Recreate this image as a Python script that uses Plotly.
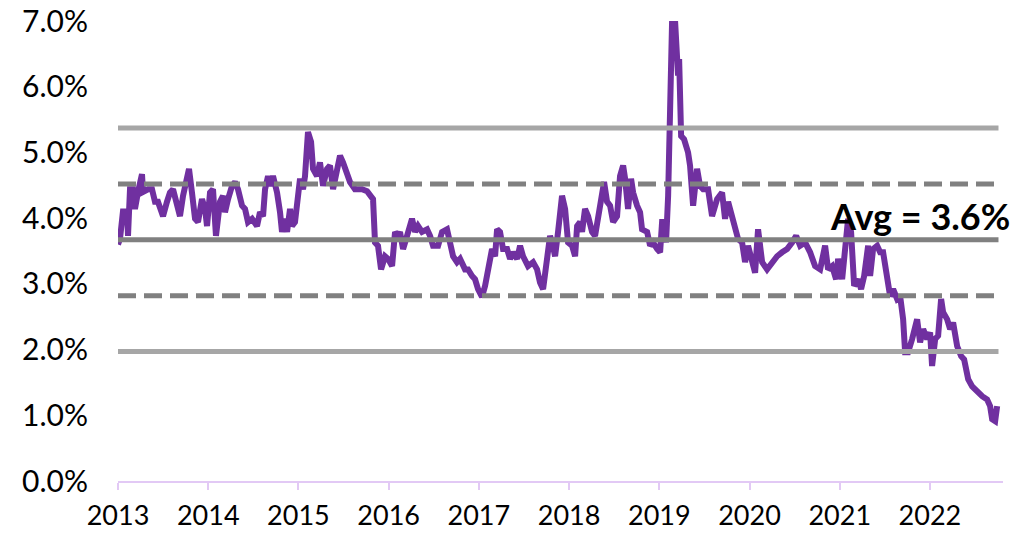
import plotly.graph_objects as go

# decimal year positions and values (%)
years = [
 2013.000, 2013.022, 2013.055, 2013.100, 2013.111, 2013.133, 2013.166, 2013.188, 2013.222, 2013.266,
 2013.277, 2013.333, 2013.377, 2013.410, 2013.443, 2013.499, 2013.543, 2013.576, 2013.610, 2013.654,
 2013.687, 2013.721, 2013.765, 2013.787, 2013.820, 2013.854, 2013.887, 2013.931, 2013.965, 2013.987,
 2014.020, 2014.053, 2014.086, 2014.098, 2014.131, 2014.164, 2014.186, 2014.220, 2014.264, 2014.297,
 2014.330, 2014.375, 2014.408, 2014.441, 2014.486, 2014.541, 2014.574, 2014.608, 2014.630, 2014.663,
 2014.685, 2014.718, 2014.763, 2014.796, 2014.818, 2014.851, 2014.874, 2014.907, 2014.929, 2014.962,
 2014.996, 2015.018, 2015.051, 2015.073, 2015.106, 2015.140, 2015.162, 2015.206, 2015.239, 2015.273,
 2015.317, 2015.350, 2015.384, 2015.428, 2015.461, 2015.494, 2015.539, 2015.572, 2015.627, 2015.705,
 2015.761, 2015.794, 2015.827, 2015.849, 2015.882, 2015.916, 2015.960, 2015.993, 2016.038, 2016.071,
 2016.104, 2016.126, 2016.160, 2016.204, 2016.259, 2016.293, 2016.326, 2016.370, 2016.426, 2016.459,
 2016.492, 2016.548, 2016.592, 2016.647, 2016.681, 2016.714, 2016.758, 2016.792, 2016.847, 2016.880,
 2016.925, 2016.958, 2016.991, 2017.035, 2017.069, 2017.102, 2017.146, 2017.180, 2017.202, 2017.235,
 2017.268, 2017.313, 2017.346, 2017.379, 2017.424, 2017.457, 2017.490, 2017.545, 2017.601, 2017.645,
 2017.678, 2017.712, 2017.756, 2017.789, 2017.812, 2017.845, 2017.878, 2017.922, 2017.956, 2017.989,
 2018.033, 2018.067, 2018.089, 2018.122, 2018.144, 2018.177, 2018.211, 2018.255, 2018.288, 2018.322,
 2018.366, 2018.388, 2018.421, 2018.455, 2018.488, 2018.532, 2018.565, 2018.599, 2018.621, 2018.654,
 2018.687, 2018.710, 2018.754, 2018.787, 2018.809, 2018.865, 2018.898, 2018.931, 2018.976, 2019.009,
 2019.031, 2019.053, 2019.075, 2019.098, 2019.120, 2019.142, 2019.175, 2019.208, 2019.220, 2019.242,
 2019.275, 2019.319, 2019.341, 2019.375, 2019.419, 2019.452, 2019.486, 2019.541, 2019.585, 2019.641,
 2019.696, 2019.729, 2019.763, 2019.807, 2019.840, 2019.874, 2019.918, 2019.951, 2019.984, 2020.029,
 2020.062, 2020.095, 2020.140, 2020.195, 2020.251, 2020.306, 2020.361, 2020.417, 2020.472, 2020.517,
 2020.561, 2020.616, 2020.672, 2020.727, 2020.783, 2020.838, 2020.871, 2020.916, 2020.960, 2020.982,
 2021.027, 2021.060, 2021.093, 2021.126, 2021.160, 2021.204, 2021.237, 2021.271, 2021.315, 2021.337,
 2021.370, 2021.415, 2021.448, 2021.481, 2021.525, 2021.559, 2021.592, 2021.636, 2021.670, 2021.703,
 2021.725, 2021.758, 2021.803, 2021.858, 2021.891, 2021.925, 2021.969, 2022.002, 2022.024, 2022.058,
 2022.091, 2022.124, 2022.146, 2022.191, 2022.224, 2022.257, 2022.302, 2022.346, 2022.379, 2022.424,
 2022.468, 2022.523, 2022.579, 2022.634, 2022.667, 2022.690, 2022.723, 2022.745,
]
values = [
 3.60, 3.68, 4.10, 4.10, 3.73, 4.44, 4.44, 4.14, 4.40, 4.67,
 4.40, 4.44, 4.44, 4.25, 4.25, 4.03, 4.25, 4.39, 4.44, 4.19,
 4.03, 4.34, 4.64, 4.75, 4.39, 3.99, 3.94, 4.29, 4.14, 3.88,
 4.39, 4.44, 3.73, 3.85, 4.25, 4.34, 4.09, 4.29, 4.49, 4.55,
 4.44, 4.19, 4.14, 3.94, 3.99, 3.88, 4.09, 4.03, 4.44, 4.64,
 4.49, 4.64, 4.39, 4.09, 3.79, 3.99, 3.79, 4.14, 3.88, 3.94,
 4.39, 4.60, 4.44, 4.64, 5.31, 5.16, 4.75, 4.64, 4.85, 4.49,
 4.75, 4.80, 4.44, 4.75, 4.95, 4.85, 4.70, 4.55, 4.44, 4.44,
 4.41, 4.34, 4.29, 3.63, 3.58, 3.22, 3.42, 3.38, 3.27, 3.79,
 3.73, 3.79, 3.53, 3.73, 3.99, 3.79, 3.88, 3.79, 3.83, 3.73,
 3.58, 3.58, 3.79, 3.83, 3.58, 3.42, 3.33, 3.38, 3.22, 3.22,
 3.12, 3.07, 2.92, 2.80, 2.97, 3.22, 3.53, 3.42, 3.83, 3.79,
 3.53, 3.53, 3.38, 3.48, 3.38, 3.58, 3.42, 3.27, 3.33, 3.22,
 3.02, 2.92, 3.48, 3.73, 3.63, 3.42, 3.79, 4.34, 4.14, 3.63,
 3.58, 3.42, 3.88, 3.94, 3.79, 4.14, 4.03, 3.79, 3.73, 4.03,
 4.34, 4.55, 4.25, 4.19, 3.94, 4.03, 4.64, 4.80, 4.60, 4.14,
 4.60, 4.39, 4.19, 4.09, 3.83, 3.79, 3.58, 3.63, 3.53, 3.48,
 3.94, 3.94, 3.63, 4.34, 5.66, 7.00, 7.00, 6.17, 6.42, 5.25,
 5.20, 5.00, 4.80, 4.19, 4.75, 4.49, 4.44, 4.44, 4.03, 4.29,
 4.39, 3.99, 4.25, 3.99, 3.88, 3.68, 3.63, 3.33, 3.58, 3.38,
 3.17, 3.83, 3.33, 3.22, 3.33, 3.42, 3.48, 3.53, 3.63, 3.73,
 3.58, 3.63, 3.48, 3.27, 3.22, 3.58, 3.22, 3.27, 3.07, 3.38,
 3.07, 3.63, 3.99, 3.79, 2.97, 3.07, 2.92, 3.12, 3.58, 3.12,
 3.53, 3.58, 3.48, 3.48, 3.07, 2.81, 2.92, 2.77, 2.81, 2.46,
 1.96, 1.96, 2.16, 2.46, 2.11, 2.31, 2.16, 2.26, 1.75, 2.16,
 2.21, 2.77, 2.57, 2.46, 2.31, 2.41, 2.05, 1.90, 1.85, 1.55,
 1.44, 1.35, 1.29, 1.24, 1.14, 0.94, 0.91, 1.14,
]

avg_value = 3.67
band_1sd = [4.52, 2.82]
band_2sd = [5.37, 1.97]
band_span = [2013.0, 2022.76]

tick_years = [2013, 2014, 2015, 2016, 2017, 2018, 2019, 2020, 2021, 2022]
tick_labels = [str(y) for y in tick_years]
y_ticks = [0, 1, 2, 3, 4, 5, 6, 7]
y_labels = ["0.0%", "1.0%", "2.0%", "3.0%", "4.0%", "5.0%", "6.0%", "7.0%"]
avg_label = "Avg = 3.6%"

PURPLE = "#7030A0"
DARK = "#808080"
LIGHT = "#A6A6A6"

fig = go.Figure()
fig.add_trace(go.Scatter(x=years, y=values, mode="lines",
                         line=dict(color=PURPLE, width=6), hoverinfo="skip"))
for v in band_2sd:
    fig.add_trace(go.Scatter(x=band_span, y=[v, v], mode="lines",
                             line=dict(color=LIGHT, width=5)))
for v in band_1sd:
    fig.add_trace(go.Scatter(x=band_span, y=[v, v], mode="lines",
                             line=dict(color=DARK, width=5, dash="18px,8px")))
fig.add_trace(go.Scatter(x=band_span, y=[avg_value, avg_value], mode="lines",
                         line=dict(color=DARK, width=5)))

fig.add_annotation(x=1.0102, y=4.03, xref="paper", yref="y", text="<b>" + avg_label + "</b>",
                   showarrow=False, xanchor="right", yanchor="middle",
                   font=dict(family="Lato", size=36, color="#000000"))

fig.update_layout(
    width=1036, height=533,
    margin=dict(l=118, r=33, t=21, b=52),
    paper_bgcolor="white", plot_bgcolor="white",
    showlegend=False,
    font=dict(family="Lato", color="#000000"),
    xaxis=dict(range=[2013, 2022.81], tickmode="array", tickvals=tick_years, ticktext=tick_labels,
               showgrid=False, zeroline=False, showline=True, linecolor="#E2C9F5", linewidth=2,
               ticks="outside", ticklen=7, tickcolor="#E2C9F5", tickwidth=1.5,
               tickfont=dict(family="Lato", size=27, color="#000000"),
               ticklabelstandoff=3, automargin=False),
    yaxis=dict(range=[0, 7], tickmode="array", tickvals=y_ticks, ticktext=y_labels,
               showgrid=False, zeroline=False, showline=False, ticks="",
               tickfont=dict(family="Lato", size=30, color="#000000"),
               ticklabelstandoff=29, automargin=False),
)

fig.write_html("out.html", config={"displayModeBar": False},
               post_script="document.body.style.margin='0';document.body.style.overflow='hidden';")
